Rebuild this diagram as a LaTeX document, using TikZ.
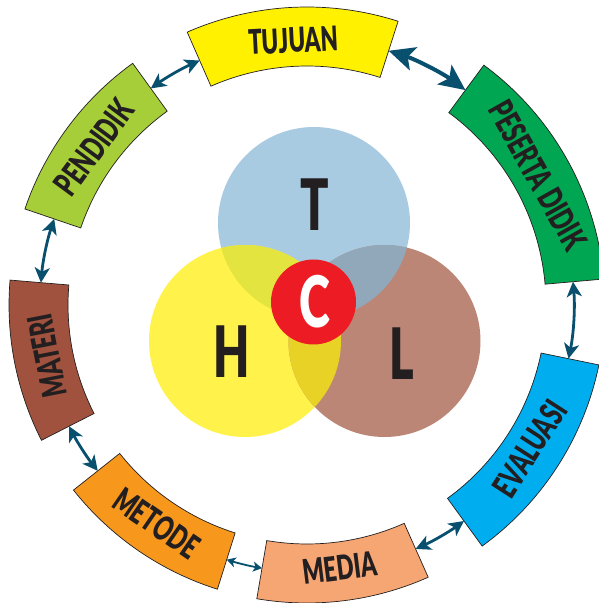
\documentclass[tikz,border=0pt]{standalone}
\usepackage{fontspec}
\usetikzlibrary{arrows.meta}
\newfontfamily\heavy[FakeStretch=0.66]{Lato Black}
\definecolor{inkc}{HTML}{231F20}
\definecolor{arrc}{RGB}{8,80,110}
\definecolor{tcol}{HTML}{A8CBE2}
\definecolor{hcol}{HTML}{FFF24B}
\definecolor{lcol}{HTML}{BC8677}
\definecolor{thcol}{HTML}{E3E43F}
\definecolor{tlcol}{HTML}{91A7BA}
\definecolor{hlcol}{HTML}{E8D225}
\definecolor{ccol}{HTML}{ED1C24}
\definecolor{tujc}{HTML}{FFF100}
\definecolor{penc}{HTML}{A6CE39}
\definecolor{matc}{HTML}{A0523E}
\definecolor{metc}{HTML}{F7981D}
\definecolor{medc}{HTML}{F6A673}
\definecolor{evac}{HTML}{00AEEF}
\definecolor{pesc}{HTML}{00A651}
\newcommand\ringseg[6]{%
  \path[seg, fill=#3] (#1:239pt) arc[start angle=#1, end angle=#2, radius=239pt]
    -- (#2:298pt) arc[start angle=#2, end angle=#1, radius=298pt] -- cycle;
  \node[lab, rotate={(#1+#2)/2+#6}] (#4) at ({(#1+#2)/2}:265pt) {#5};
}
\begin{document}
\begin{tikzpicture}[x=1pt,y=1pt,
  seg/.style={draw=inkc, line width=0.7pt},
  lab/.style={font=\heavy\fontsize{34}{34}\selectfont, text=inkc, inner sep=0pt},
  big/.style={font=\heavy\fontsize{71}{71}\selectfont, text=inkc, inner sep=0pt},
  arrbig/.style={draw=arrc, line width=4pt, {Stealth[length=26pt,width=24pt,inset=6pt]}-{Stealth[length=26pt,width=24pt,inset=6pt]}},
  arrmid/.style={draw=arrc, line width=2.8pt, {Stealth[length=15pt,width=15pt,inset=4pt]}-{Stealth[length=15pt,width=15pt,inset=4pt]}},
  arrsmall/.style={draw=arrc, line width=1.8pt, {Stealth[length=9pt,width=10pt,inset=2.5pt]}-{Stealth[length=9pt,width=10pt,inset=2.5pt]}}
]
\useasboundingbox (0,0) rectangle (598,603);
% central circles
\coordinate (Tc) at (314,380);
\coordinate (Hc) at (245,262);
\coordinate (Lc) at (384.5,262);
\fill[tcol] (Tc) circle[radius=96pt];
\fill[hcol] (Hc) circle[radius=96pt];
\fill[lcol] (Lc) circle[radius=96pt];
\begin{scope}
  \clip (Tc) circle[radius=96pt];
  \fill[thcol] (Hc) circle[radius=96pt];
  \fill[tlcol] (Lc) circle[radius=96pt];
\end{scope}
\begin{scope}
  \clip (Hc) circle[radius=96pt];
  \fill[hlcol] (Lc) circle[radius=96pt];
\end{scope}
\node[circle, fill=ccol, minimum size=85pt, inner sep=0pt] (cc) at (313.5,301) {};
\node[big] (tl) at (315,398) {T};
\node[big] (hl) at (232,251) {H};
\node[big] (ll) at (402,249) {L};
\node[big, text=white] (cl) at (314.5,301) {C};
% ring
\begin{scope}[shift={(307,298)}]
  \ringseg{72.2}{113.7}{tujc}{tuj}{TUJUAN}{-90}
  \ringseg{125.8}{161.2}{penc}{pen}{PENDIDIK}{-90}
  \ringseg{175.2}{207}{matc}{mat}{MATERI}{-90}
  \ringseg{218.4}{252.5}{metc}{met}{METODE}{90}
  \ringseg{260.3}{294}{medc}{med}{MEDIA}{90}
  \ringseg{306}{348.4}{evac}{eva}{EVALUASI}{90}
  \ringseg{5}{53.6}{pesc}{pes}{PESERTA DIDIK}{-90}
  \coordinate (a1) at (72.2:267pt);
  \coordinate (a2) at (125.8:267pt);
  \coordinate (a3) at (175.2:267pt);
  \coordinate (a4) at (218.4:267pt);
  \coordinate (a5) at (260.3:267pt);
  \coordinate (a6) at (306:267pt);
  \coordinate (a7) at (365:267pt);
  \draw[arrbig] (a1) arc[start angle=72.2, end angle=53.6, radius=267pt];
  \draw[arrmid] (a2) arc[start angle=125.8, end angle=113.7, radius=267pt];
  \draw[arrmid] (a3) arc[start angle=175.2, end angle=161.2, radius=267pt];
  \draw[arrmid] (a4) arc[start angle=218.4, end angle=207, radius=267pt];
  \draw[arrsmall] (a5) arc[start angle=260.3, end angle=252.5, radius=267pt];
  \draw[arrmid] (a6) arc[start angle=306, end angle=294, radius=267pt];
  \draw[arrmid] (a7) arc[start angle=365, end angle=348.4, radius=267pt];
\end{scope}
\end{tikzpicture}
\end{document}
